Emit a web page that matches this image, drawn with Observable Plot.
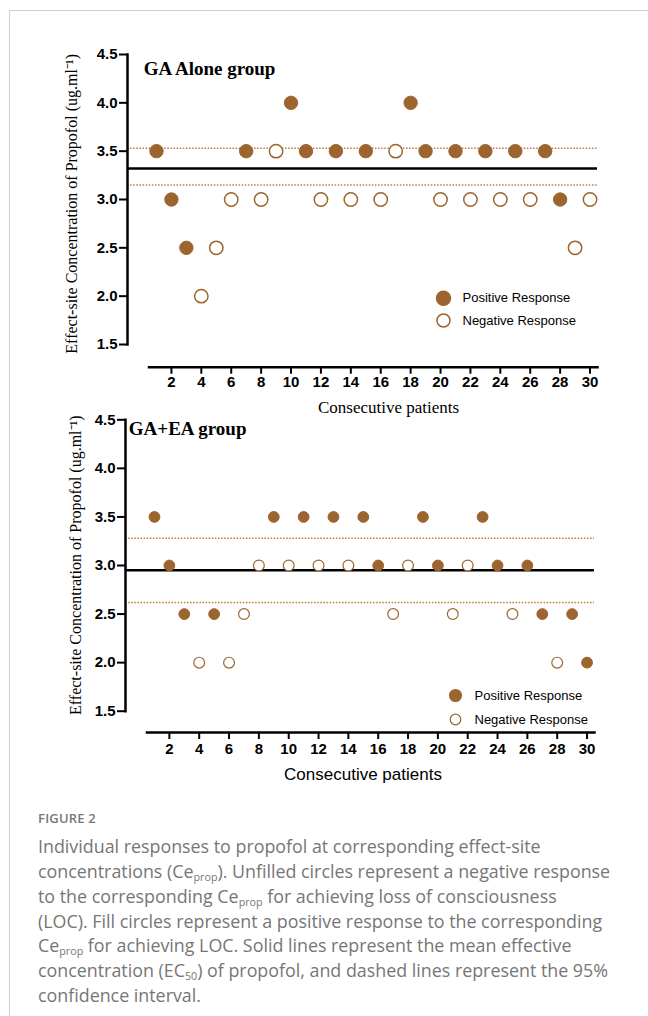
<!DOCTYPE html>
<html><head><meta charset="utf-8">
<script src="https://cdn.jsdelivr.net/npm/d3@7"></script>
<script src="https://cdn.jsdelivr.net/npm/@observablehq/plot@0.6"></script>
<style>
body{margin:0;background:#fff;width:648px;height:1016px;overflow:hidden;position:relative}
#border{position:absolute;left:9px;top:10px;width:700px;height:1100px;border:1px solid #cfcfcf}
#top{position:absolute;left:0;top:0}
#bottom{position:absolute;left:0;top:400px}
#fig{position:absolute;left:38px;top:809px;font-family:"Open Sans",Lato,sans-serif;font-size:13px;font-weight:600;color:#777;letter-spacing:0.2px}
#caption{position:absolute;left:38px;top:834px;font-family:"Open Sans",Lato,sans-serif;font-size:17.85px;line-height:24.85px;color:#767676;white-space:nowrap}
#caption sub{font-size:0.6em;vertical-align:-0.25em;line-height:0}
</style></head>
<body>
<div id="border"></div>
<div id="top"></div>
<div id="bottom"></div>
<div id="fig">FIGURE 2</div>
<div id="caption">Individual responses to propofol at corresponding effect-site<br>concentrations (Ce<sub>prop</sub>). Unfilled circles represent a negative response<br>to the corresponding Ce<sub>prop</sub> for achieving loss of consciousness<br>(LOC). Fill circles represent a positive response to the corresponding<br>Ce<sub>prop</sub> for achieving LOC. Solid lines represent the mean effective<br>concentration (EC<sub>50</sub>) of propofol, and dashed lines represent the 95%<br>confidence interval.</div>
<script>
// ---- data ----
const patients = [1,2,3,4,5,6,7,8,9,10,11,12,13,14,15,16,17,18,19,20,21,22,23,24,25,26,27,28,29,30];
const gaAloneCe = [3.5,3.0,2.5,2.0,2.5,3.0,3.5,3.0,3.5,4.0,3.5,3.0,3.5,3.0,3.5,3.0,3.5,4.0,3.5,3.0,3.5,3.0,3.5,3.0,3.5,3.0,3.5,3.0,2.5,3.0];
const gaAloneResponse = ["P","P","P","N","N","N","P","N","N","P","P","N","P","N","P","N","N","P","P","N","P","N","P","N","P","N","P","P","N","N"];
const gaEaCe = [3.5,3.0,2.5,2.0,2.5,2.0,2.5,3.0,3.5,3.0,3.5,3.0,3.5,3.0,3.5,3.0,2.5,3.0,3.5,3.0,2.5,3.0,3.5,3.0,2.5,3.0,2.5,2.0,2.5,2.0];
const gaEaResponse = ["P","P","P","N","P","N","N","N","P","N","P","N","P","N","P","P","N","N","P","P","N","N","P","P","N","P","P","N","P","P"];
const gaAloneEc50 = [3.32];
const gaAloneCI = [3.15, 3.53];
const gaEaEc50 = [2.95];
const gaEaCI = [2.62, 3.28];
const yTicks = [1.5,2.0,2.5,3.0,3.5,4.0,4.5];
const xTicks = [2,4,6,8,10,12,14,16,18,20,22,24,26,28,30];
const legendLabels = ["Positive Response","Negative Response"];
const panelTitles = ["GA Alone group","GA+EA group"];
const yLabel = "Effect-site Concentration of Propofol (ug.ml\u207B\u00B9)";
const xLabel = "Consecutive patients";

const brown = "#9c6530";
const dotted = "#c27b3b";
const sans = "Liberation Sans, Arial, sans-serif";
const serif = "Liberation Serif, Times New Roman, serif";

function panel(o) {
  const data = patients.map((p, i) => ({patient: p, ce: o.ce[i], response: o.resp[i]}));
  const pos = data.filter(d => d.response === "P");
  const neg = data.filter(d => d.response === "N");
  return Plot.plot({
    width: 648, height: o.height,
    marginLeft: o.ml, marginRight: o.mr, marginTop: o.mt, marginBottom: o.mb,
    x: {domain: [0.5, 30.5], insetLeft: 21.5, axis: null},
    y: {domain: [1.5, 4.5], insetBottom: o.ib, axis: null},
    style: {background: "transparent", overflow: "visible", color: "black"},
    marks: [
      Plot.ruleY(o.ci, {stroke: dotted, strokeWidth: 1.5, strokeDasharray: "1.5 1.6"}),
      Plot.ruleY(o.ec50, {stroke: "black", strokeWidth: 2.5}),
      Plot.frame({anchor: "left", insetBottom: o.ib, strokeWidth: 2.5, stroke: "black"}),
      Plot.frame({anchor: "bottom", insetLeft: 21.5, strokeWidth: 2.5, stroke: "black"}),
      Plot.axisY(yTicks, {tickSize: 8, tickPadding: 2, tickFormat: d3.format(".1f"), fontSize: 15, fontWeight: "bold", fontFamily: sans, strokeWidth: 2, label: null}),
      Plot.axisX(xTicks, {tickSize: 7, tickPadding: o.xpad, fontSize: 15, fontWeight: "bold", fontFamily: sans, strokeWidth: 2, label: null}),
      Plot.dot(neg, {x: "patient", y: "ce", r: o.r, fill: "white", stroke: brown, strokeWidth: o.sw}),
      Plot.dot(pos, {x: "patient", y: "ce", r: o.r, fill: brown, stroke: brown, strokeWidth: 1}),
      Plot.text([o.title], {frameAnchor: "top-left", dx: o.tdx, dy: o.tdy, textAnchor: "start", lineAnchor: "middle", fontFamily: serif, fontWeight: "bold", fontSize: 19}),
      Plot.text([yLabel], {frameAnchor: "left", dx: o.ydx, dy: o.ydy, rotate: -90, textAnchor: "middle", lineAnchor: "middle", fontFamily: serif, fontSize: 16}),
      Plot.text([xLabel], {frameAnchor: "bottom", dx: o.xdx, dy: o.xdy, textAnchor: "middle", lineAnchor: "middle", fontFamily: o.xfont, fontSize: 17}),
      Plot.dot([legendLabels[0]], {frameAnchor: "top-left", dx: o.lx, dy: o.ly1, r: o.lr, fill: brown, stroke: brown}),
      Plot.dot([legendLabels[1]], {frameAnchor: "top-left", dx: o.lx, dy: o.ly2, r: o.lr - 0.5, fill: "white", stroke: brown, strokeWidth: o.sw}),
      Plot.text([legendLabels[0]], {frameAnchor: "top-left", dx: o.ltx, dy: o.ly1, textAnchor: "start", lineAnchor: "middle", fontFamily: sans, fontSize: 13}),
      Plot.text([legendLabels[1]], {frameAnchor: "top-left", dx: o.ltx, dy: o.ly2, textAnchor: "start", lineAnchor: "middle", fontFamily: sans, fontSize: 13})
    ]
  });
}

document.getElementById("top").append(panel({
  ce: gaAloneCe, resp: gaAloneResponse, ec50: gaAloneEc50, ci: gaAloneCI, title: panelTitles[0],
  height: 420, ml: 127, mr: 51, mt: 54, mb: 53.3, ib: 22.7, r: 6.7, sw: 1.5, xpad: 2,
  tdx: 16.3, tdy: 14.3, ydx: -55.3, ydy: -7, xdx: 26, xdy: 40, xfont: serif,
  lx: 316, ltx: 335, ly1: 243.7, ly2: 266, lr: 7
}));
document.getElementById("bottom").append(panel({
  ce: gaEaCe, resp: gaEaResponse, ec50: gaEaEc50, ci: gaEaCI, title: panelTitles[1],
  height: 390, ml: 125, mr: 54, mt: 19.3, mb: 58, ib: 21.3, r: 5.4, sw: 1.2, xpad: 4,
  tdx: 3.3, tdy: 9, ydx: -50, ydy: -11, xdx: 3, xdy: 42, xfont: sans,
  lx: 330, ltx: 349, ly1: 275.7, ly2: 299.7, lr: 5.8
}));
</script>
</body></html>
